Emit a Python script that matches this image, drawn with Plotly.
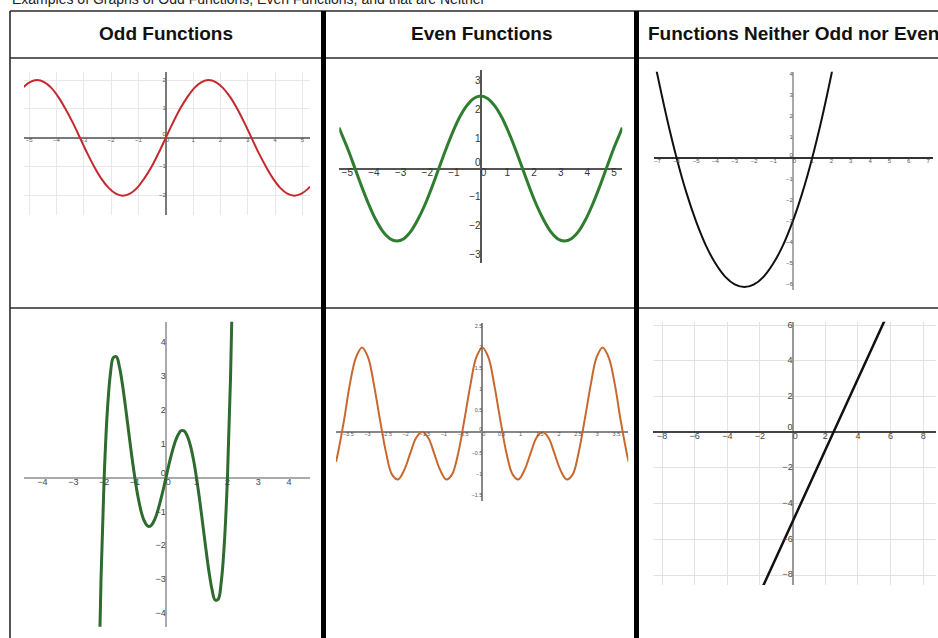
import plotly.graph_objects as go

W, H = 938, 638
FONT = "Liberation Sans, Arial, sans-serif"

# ---------------- data ----------------
# Odd function 1 (red sine)
odd1_x = [-5.24, -4.97, -4.71, -4.45, -4.19, -3.93, -3.67, -3.40, -3.14, -2.88,
          -2.62, -2.36, -2.09, -1.83, -1.57, -1.31, -1.05, -0.79, -0.52, -0.26, 0,
          0.26, 0.52, 0.79, 1.05, 1.31, 1.57, 1.83, 2.09, 2.36, 2.62, 2.88, 3.14,
          3.40, 3.67, 3.93, 4.19, 4.45, 4.71, 4.97, 5.24, 5.28]
odd1_y = [1.73, 1.93, 2.0, 1.93, 1.73, 1.41, 1.0, 0.52, 0, -0.52,
          -1.0, -1.41, -1.73, -1.93, -2.0, -1.93, -1.73, -1.41, -1.0, -0.52, 0,
          0.52, 1.0, 1.41, 1.73, 1.93, 2.0, 1.93, 1.73, 1.41, 1.0, 0.52, 0,
          -0.52, -1.0, -1.41, -1.73, -1.93, -2.0, -1.93, -1.73, -1.69]

# Even function 1 (green cosine)
even1_x = [-5.31, -5.24, -4.97, -4.71, -4.45, -4.19, -3.93, -3.67, -3.40, -3.14,
           -2.88, -2.62, -2.36, -2.09, -1.83, -1.57, -1.31, -1.05, -0.79, -0.52,
           -0.26, 0, 0.26, 0.52, 0.79, 1.05, 1.31, 1.57, 1.83, 2.09, 2.36, 2.62,
           2.88, 3.14, 3.40, 3.67, 3.93, 4.19, 4.45, 4.71, 4.97, 5.24, 5.31]
even1_y = [1.41, 1.25, 0.65, 0, -0.65, -1.25, -1.77, -2.17, -2.42, -2.5,
           -2.42, -2.17, -1.77, -1.25, -0.65, 0, 0.65, 1.25, 1.77, 2.17,
           2.42, 2.5, 2.42, 2.17, 1.77, 1.25, 0.65, 0, -0.65, -1.25, -1.77, -2.17,
           -2.42, -2.5, -2.42, -2.17, -1.77, -1.25, -0.65, 0, 0.65, 1.25, 1.41]

# Neither 1 (black parabola)
nei1_x = [-7.05, -6.5, -6, -5.5, -5, -4.5, -4, -3.5, -3, -2.5, -2, -1.5, -1,
          -0.5, 0, 0.5, 1, 1.5, 2, 2.07]
nei1_y = [4.2, 1.88, 0, -1.63, -3.0, -4.13, -5.0, -5.63, -6.0, -6.13, -6.0,
          -5.63, -5.0, -4.13, -3.0, -1.63, 0, 1.88, 4.0, 4.32]

# Odd function 2 (green quintic)
odd2_x = [-2.2, -2.1, -2.0, -1.9, -1.8, -1.7, -1.6, -1.5, -1.4, -1.3, -1.2,
          -1.1, -1.0, -0.9, -0.8, -0.7, -0.6, -0.5, -0.4, -0.3, -0.2, -0.1, 0,
          0.1, 0.2, 0.3, 0.4, 0.5, 0.6, 0.7, 0.8, 0.9, 1.0, 1.1, 1.2, 1.3, 1.4,
          1.5, 1.6, 1.7, 1.8, 1.9, 2.0, 2.1, 2.2]
odd2_y = [-7.10, -2.94, 0, 1.93, 3.06, 3.57, 3.59, 3.28, 2.74, 2.07, 1.35,
          0.64, 0, -0.55, -0.97, -1.25, -1.40, -1.41, -1.29, -1.07, -0.76, -0.40, 0,
          0.40, 0.76, 1.07, 1.29, 1.41, 1.40, 1.25, 0.97, 0.55, 0, -0.64, -1.35,
          -2.07, -2.74, -3.28, -3.59, -3.57, -3.06, -1.93, 0, 2.94, 7.10]

# Even function 2 (orange)
even2_x = [-3.82, -3.77, -3.61, -3.46, -3.30, -3.14, -2.98, -2.83, -2.67, -2.51,
           -2.36, -2.20, -2.04, -1.88, -1.73, -1.57, -1.41, -1.26, -1.10, -0.94,
           -0.79, -0.63, -0.47, -0.31, -0.16, 0, 0.16, 0.31, 0.47, 0.63, 0.79,
           0.94, 1.10, 1.26, 1.41, 1.57, 1.73, 1.88, 2.04, 2.20, 2.36, 2.51,
           2.67, 2.83, 2.98, 3.14, 3.30, 3.46, 3.61, 3.77, 3.82]
even2_y = [-0.70, -0.50, 0.28, 1.12, 1.76, 2.0, 1.76, 1.12, 0.28, -0.50,
           -1.0, -1.12, -0.90, -0.50, -0.14, 0, -0.14, -0.50, -0.90, -1.12,
           -1.0, -0.50, 0.28, 1.12, 1.76, 2.0, 1.76, 1.12, 0.28, -0.50, -1.0,
           -1.12, -0.90, -0.50, -0.14, 0, -0.14, -0.50, -0.90, -1.12, -1.0, -0.50,
           0.28, 1.12, 1.76, 2.0, 1.76, 1.12, 0.28, -0.50, -0.70]

# Neither 2 (black line)
nei2_x = [-1.8, 2.5, 5.65]
nei2_y = [-8.6, 0, 6.3]

# tick labels
c1_xt = [-5, -4, -3, -2, -1, 0, 1, 2, 3, 4, 5]
c1_yt = [-2, -1, 0, 1, 2]
c2_xt = [-5, -4, -3, -2, -1, 0, 1, 2, 3, 4, 5]
c2_yt = [-3, -2, -1, 0, 1, 2, 3]
c3_xt = [-7, -6, -5, -4, -3, -2, -1, 0, 1, 2, 3, 4, 5, 6, 7]
c3_yt = [-6, -5, -4, -3, -2, -1, 0, 1, 2, 3, 4]
c4_xt = [-4, -3, -2, -1, 0, 1, 2, 3, 4]
c4_yt = [-4, -3, -2, -1, 0, 1, 2, 3, 4]
c5_xt = [-3.5, -3, -2.5, -2, -1.5, -1, -0.5, 0, 0.5, 1, 1.5, 2, 2.5, 3, 3.5]
c5_yt = [-1.5, -1, -0.5, 0, 0.5, 1, 1.5, 2, 2.5]
c6_xt = [-8, -6, -4, -2, 0, 2, 4, 6, 8]
c6_yt = [-8, -6, -4, -2, 0, 2, 4, 6]

caption = "Examples of Graphs of Odd Functions, Even Functions, and that are Neither"
headers = ["Odd Functions", "Even Functions", "Functions Neither Odd nor Even"]


def fmt(v):
    s = ("%g" % v)
    return s.replace("-", "\u2212")


def px(x):
    return x / W


def py(y):
    return 1 - y / H


fig = go.Figure()

charts = [
    dict(i=1, xp=(24, 310), yp=(72, 215), xr=[-5.19, 5.28], yr=[-2.67, 2.28],
         xs=odd1_x, ys=odd1_y, color="#c4282c", lw=2,
         grid=1, gridcolor="#e8e8e8", zx="#7a7a7a", zy="#7a7a7a", zw=1.5,
         xt=c1_xt, yt=c1_yt, fs=6, fc="#555"),
    dict(i=2, xp=(339.3, 622.3), yp=(70, 263), xr=[-5.3, 5.31], yr=[-3.26, 3.4],
         xs=even1_x, ys=even1_y, color="#2f7d2f", lw=3,
         grid=None, gridcolor=None, zx="#555", zy="#555", zw=1.5,
         xt=c2_xt, yt=c2_yt, fs=10, fc="#333"),
    dict(i=3, xp=(654.3, 932.7), yp=(71.7, 290), xr=[-7.16, 7.24], yr=[-6.27, 4.13],
         xs=nei1_x, ys=nei1_y, color="#111", lw=2,
         grid=None, gridcolor=None, zx="#aaaaaa", zy="#333", zw=2,
         xt=c3_xt, yt=c3_yt, fs=6, fc="#555"),
    dict(i=4, xp=(24, 310), yp=(321.7, 626.7), xr=[-4.6, 4.68], yr=[-4.38, 4.63],
         xs=odd2_x, ys=odd2_y, color="#2e6b2e", lw=3,
         grid=None, gridcolor=None, zx="#aaaaaa", zy="#aaaaaa", zw=2,
         xt=c4_xt, yt=c4_yt, fs=9, fc="#444"),
    dict(i=5, xp=(336, 628.3), yp=(323.3, 501), xr=[-3.82, 3.81], yr=[-1.63, 2.57],
         xs=even2_x, ys=even2_y, color="#c8682e", lw=2,
         grid=None, gridcolor=None, zx="#888", zy="#888", zw=1.5,
         xt=c5_xt, yt=c5_yt, fs=5.5, fc="#555"),
    dict(i=6, xp=(652.7, 936), yp=(321.7, 585), xr=[-8.57, 8.78], yr=[-8.56, 6.2],
         xs=nei2_x, ys=nei2_y, color="#111", lw=2.5,
         grid=2, gridcolor="#e2e2e2", zx="#999", zy="#444", zw=2,
         xt=c6_xt, yt=c6_yt, fs=9, fc="#444"),
]

layout_axes = {}
for c in charts:
    i = c["i"]
    sx = "" if i == 1 else str(i)
    xa, ya = "x" + sx, "y" + sx
    show_grid = c["grid"] is not None
    common = dict(showticklabels=False, ticks="", showline=False, fixedrange=True,
                  showgrid=show_grid, zeroline=True, zerolinewidth=c["zw"])
    xax = dict(common, domain=[px(c["xp"][0]), px(c["xp"][1])], range=c["xr"],
               anchor=ya, zerolinecolor=c["zx"])
    yax = dict(common, domain=[py(c["yp"][1]), py(c["yp"][0])], range=c["yr"],
               anchor=xa, zerolinecolor=c["zy"])
    if show_grid:
        for a in (xax, yax):
            a.update(tick0=0, dtick=c["grid"], gridcolor=c["gridcolor"], gridwidth=1)
    layout_axes["xaxis" + sx] = xax
    layout_axes["yaxis" + sx] = yax

    fig.add_trace(go.Scatter(x=c["xs"], y=c["ys"], mode="lines",
                             line=dict(color=c["color"], width=c["lw"], shape="spline",
                                       smoothing=1.0),
                             xaxis=xa, yaxis=ya, hoverinfo="skip", showlegend=False))
    tf = dict(size=c["fs"], color=c["fc"], family=FONT)
    fig.add_trace(go.Scatter(x=c["xt"], y=[0] * len(c["xt"]),
                             text=[fmt(v) for v in c["xt"]], mode="text",
                             textposition=["bottom right" if v == 0 else "bottom center"
                                           for v in c["xt"]],
                             textfont=tf, cliponaxis=False,
                             xaxis=xa, yaxis=ya, hoverinfo="skip", showlegend=False))
    yt = [v for v in c["yt"] if v != 0]
    fig.add_trace(go.Scatter(x=[0] * (len(yt) + 1), y=yt + [0],
                             text=[fmt(v) for v in yt] + ["0"], mode="text",
                             textposition=["middle left"] * len(yt) + ["top left"],
                             textfont=tf, cliponaxis=False,
                             xaxis=xa, yaxis=ya, hoverinfo="skip", showlegend=False))

# table lines
shapes = []
line_col = "#2a2a2a"
for yy in (11, 58, 308):
    shapes.append(dict(type="line", xref="paper", yref="paper",
                       x0=px(10), x1=px(W + 5), y0=py(yy), y1=py(yy),
                       line=dict(color=line_col, width=1.6)))
shapes.append(dict(type="line", xref="paper", yref="paper",
                   x0=px(10), x1=px(10), y0=py(11), y1=py(H + 5),
                   line=dict(color=line_col, width=1.6)))
for x0, x1 in ((321, 326), (634, 639)):
    shapes.append(dict(type="rect", xref="paper", yref="paper",
                       x0=px(x0), x1=px(x1), y0=py(11), y1=py(H + 5),
                       fillcolor="#000", line=dict(width=0)))

annotations = [
    dict(text=caption, x=px(10), y=py(-1), xref="paper", yref="paper",
         xanchor="left", yanchor="middle", showarrow=False,
         font=dict(size=14, color="#222", family=FONT)),
    dict(text="<b>%s</b>" % headers[0], x=px(166), y=py(34), xref="paper", yref="paper",
         xanchor="center", yanchor="middle", showarrow=False,
         font=dict(size=19, color="#111", family=FONT)),
    dict(text="<b>%s</b>" % headers[1], x=px(481), y=py(34), xref="paper", yref="paper",
         xanchor="center", yanchor="middle", showarrow=False,
         font=dict(size=19, color="#111", family=FONT)),
    dict(text="<b>%s</b>" % headers[2], x=px(646), y=py(34), xref="paper", yref="paper",
         xanchor="left", yanchor="middle", showarrow=False,
         font=dict(size=19, color="#111", family=FONT)),
]

fig.update_layout(width=W, height=H, autosize=False,
                  margin=dict(l=0, r=0, t=0, b=0, pad=0),
                  paper_bgcolor="white", plot_bgcolor="white",
                  shapes=shapes, annotations=annotations, showlegend=False,
                  **layout_axes)

fig.write_html("out.html", config={"displayModeBar": False},
               post_script="document.body.style.margin='0';document.body.style.overflow='hidden';")
